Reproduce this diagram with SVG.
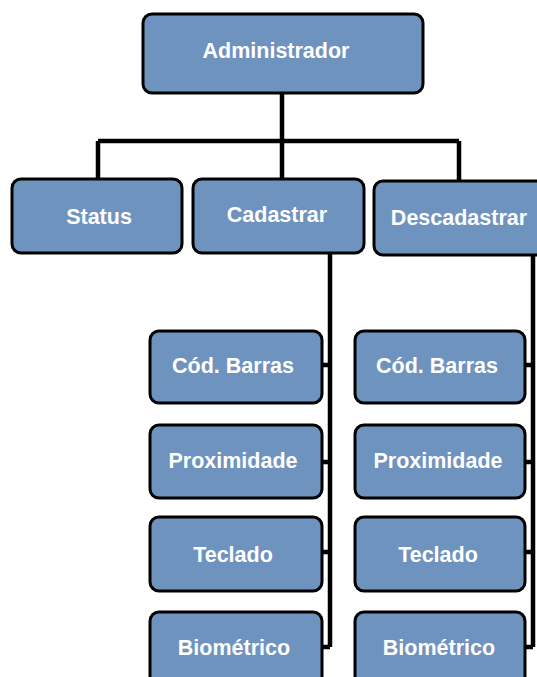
<svg xmlns="http://www.w3.org/2000/svg" width="537" height="677" viewBox="0 0 537 677">
<style>
.box{fill:#6F93BF;stroke:#000;stroke-width:3}
.lbl{font-family:"Liberation Sans",Arial,sans-serif;font-weight:bold;font-size:21.5px;fill:#fff;text-anchor:middle}
.con{fill:none;stroke:#000;stroke-width:4.5;stroke-linecap:butt;stroke-linejoin:miter}
</style>
<rect x="0" y="0" width="537" height="677" fill="#fff"/>
<g id="connectors">
<path class="con" d="M282 93 V141 M98 141 H459 M98 141 V179 M282 141 V179 M459 141 V181"/>
<path class="con" d="M330 253 V647 M322 365 H330 M322 462 H330 M322 552 H330 M322 647 H330"/>
<path class="con" d="M533 255 V647 M525 365 H533 M525 462 H533 M525 552 H533 M525 647 H533"/>
</g>
<g id="administrador"><rect class="box" x="143" y="14" width="280" height="79" rx="9"/><text class="lbl" x="276" y="58">Administrador</text></g>
<g id="status"><rect class="box" x="12" y="179" width="170" height="74" rx="9"/><text class="lbl" x="99" y="224">Status</text></g>
<g id="cadastrar"><rect class="box" x="193" y="179" width="171" height="74" rx="9"/><text class="lbl" x="277" y="222">Cadastrar</text></g>
<g id="descadastrar"><rect class="box" x="374" y="181" width="172" height="74" rx="9"/><text class="lbl" x="459" y="225">Descadastrar</text></g>
<g id="cad-codbarras"><rect class="box" x="150" y="331" width="172" height="72" rx="9"/><text class="lbl" x="233" y="373">Cód. Barras</text></g>
<g id="cad-proximidade"><rect class="box" x="150" y="425" width="172" height="73" rx="9"/><text class="lbl" x="233" y="468">Proximidade</text></g>
<g id="cad-teclado"><rect class="box" x="150" y="517" width="172" height="74" rx="9"/><text class="lbl" x="233" y="562">Teclado</text></g>
<g id="cad-biometrico"><rect class="box" x="150" y="612" width="172" height="74" rx="9"/><text class="lbl" x="234" y="655">Biométrico</text></g>
<g id="des-codbarras"><rect class="box" x="355" y="331" width="170" height="72" rx="9"/><text class="lbl" x="437" y="373">Cód. Barras</text></g>
<g id="des-proximidade"><rect class="box" x="355" y="425" width="170" height="73" rx="9"/><text class="lbl" x="438" y="468">Proximidade</text></g>
<g id="des-teclado"><rect class="box" x="355" y="517" width="170" height="74" rx="9"/><text class="lbl" x="438" y="562">Teclado</text></g>
<g id="des-biometrico"><rect class="box" x="355" y="612" width="170" height="74" rx="9"/><text class="lbl" x="439" y="655">Biométrico</text></g>
</svg>
